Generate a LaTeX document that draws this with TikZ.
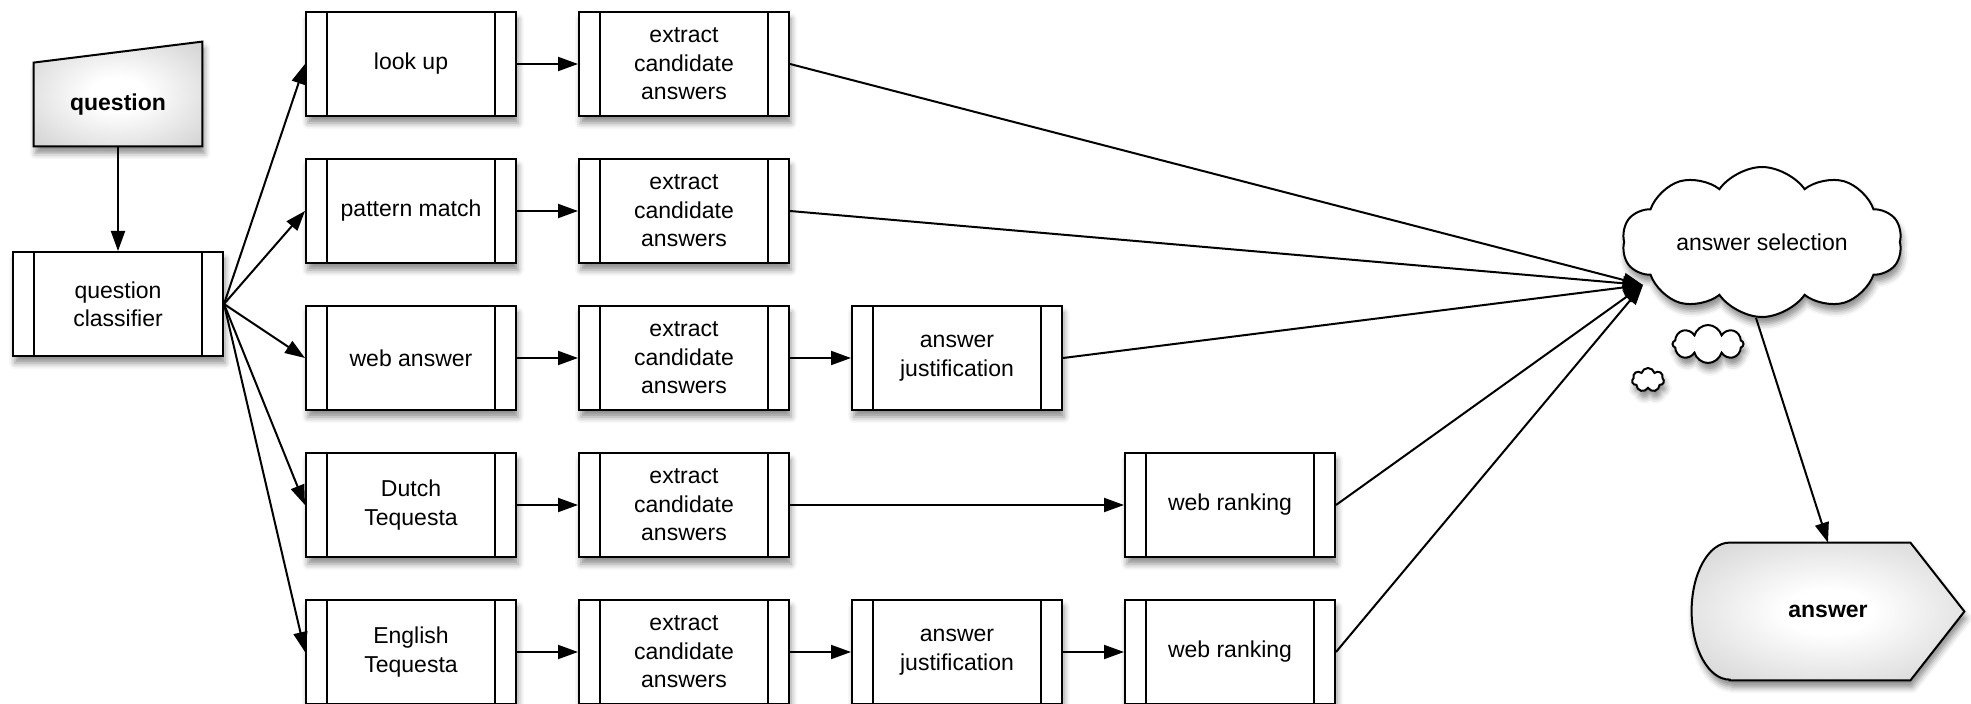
\documentclass[tikz,border=0pt]{standalone}
\usepackage{fontspec}
\setmainfont{Liberation Sans}
\usetikzlibrary{shapes.symbols, arrows.meta, positioning, backgrounds, shadows.blur}
\pgfdeclareradialshading{glow}{\pgfpoint{0bp}{0bp}}{color(0bp)=(white); color(8bp)=(white); color(50bp)=(black!27); color(72bp)=(black!36)}

\begin{document}
\begin{tikzpicture}[
    x=1pt, y=1pt,
    font=\fontsize{11.5pt}{14.2pt}\selectfont,
    node distance=20.5pt and 30.5pt,
    >={Triangle[length=10pt, width=7pt]},
    link/.style={->, line width=1pt},
    shadowed/.style={blur shadow={shadow xshift=1pt, shadow yshift=-3.5pt, shadow blur radius=3pt, shadow opacity=45}},
    procbox/.style={draw, fill=white, line width=1pt, minimum width=105pt, minimum height=52pt,
      inner sep=0pt, align=center, shadowed,
      path picture={
        \draw[line width=1pt]
          ([xshift=10.5pt]path picture bounding box.north west) -- ([xshift=10.5pt]path picture bounding box.south west)
          ([xshift=-10.5pt]path picture bounding box.north east) -- ([xshift=-10.5pt]path picture bounding box.south east);
      }},
    boldtext/.style={inner sep=0pt, font=\fontsize{11.5pt}{14.2pt}\selectfont\bfseries},
    thought/.style={cloud, draw, fill=white, line width=1pt, inner sep=0pt, cloud ignores aspect, shadowed}
  ]
  \useasboundingbox (0,0) rectangle (985.5,351.5);

  \node[boldtext, minimum width=84pt, minimum height=41.5pt] (question) at (59,299.25) {question};
  \node[procbox] (classifier) at (59,199.5) {question\\classifier};

  \node[procbox] (lookup) at (205.5,319.5) {look up};
  \node[procbox, below=of lookup] (pattern) {pattern match};
  \node[procbox, below=of pattern] (web) {web answer};
  \node[procbox, below=of web] (dutch) {Dutch\\Tequesta};
  \node[procbox, below=of dutch] (english) {English\\Tequesta};

  \node[procbox, right=of lookup] (ex1) {extract\\candidate\\answers};
  \node[procbox, right=of pattern] (ex2) {extract\\candidate\\answers};
  \node[procbox, right=of web] (ex3) {extract\\candidate\\answers};
  \node[procbox, right=of dutch] (ex4) {extract\\candidate\\answers};
  \node[procbox, right=of english] (ex5) {extract\\candidate\\answers};

  \node[procbox, right=of ex3] (just3) {answer\\justification};
  \node[procbox, right=of ex5] (just5) {answer\\justification};
  \node[procbox, right=167pt of ex4] (rank4) {web ranking};
  \node[procbox, right=of just5] (rank5) {web ranking};

  \node[thought, cloud puffs=10, cloud puff arc=110, minimum width=140pt, minimum height=75pt] (select) at (881,230.5) {answer selection};
  \node[thought, cloud puffs=8, minimum width=35.5pt, minimum height=19pt] (puff1) at (854,179.5) {};
  \node[thought, cloud puffs=7, minimum width=16pt, minimum height=12pt] (puff2) at (824,161.5) {};
  \coordinate (select-in) at (821.5,209);

  \node[boldtext, minimum width=136pt, minimum height=68.5pt] (answer) at (914,45.75) {answer};

  \begin{scope}[on background layer]
    \shade[draw, line width=1pt, shading=glow, shadowed]
      (question.south west) -- (question.south east) -- ([yshift=10.5pt]question.north east)
      -- (question.north west) -- cycle;
    \shade[draw, line width=1pt, shading=glow, shadowed]
      ([xshift=19pt]answer.south west) -- ([xshift=-27pt]answer.south east) -- (answer.east)
      -- ([xshift=-27pt]answer.north east) -- ([xshift=19pt]answer.north west)
      arc[start angle=90, end angle=270, x radius=19pt, y radius=34.25pt] -- cycle;
  \end{scope}

  \draw[link] (question.south) -- (classifier.north);
  \foreach \n in {lookup, pattern, web, dutch, english}
    \draw[link] (classifier.east) -- (\n.west);
  \foreach \a/\b in {lookup/ex1, pattern/ex2, web/ex3, dutch/ex4, english/ex5, ex3/just3, ex4/rank4, ex5/just5, just5/rank5}
    \draw[link] (\a) -- (\b);
  \foreach \n in {ex1, ex2, just3, rank4, rank5}
    \draw[link] (\n.east) -- (select-in);
  \draw[link] ([xshift=-3pt]select.south) -- (answer.north);
\end{tikzpicture}
\end{document}
